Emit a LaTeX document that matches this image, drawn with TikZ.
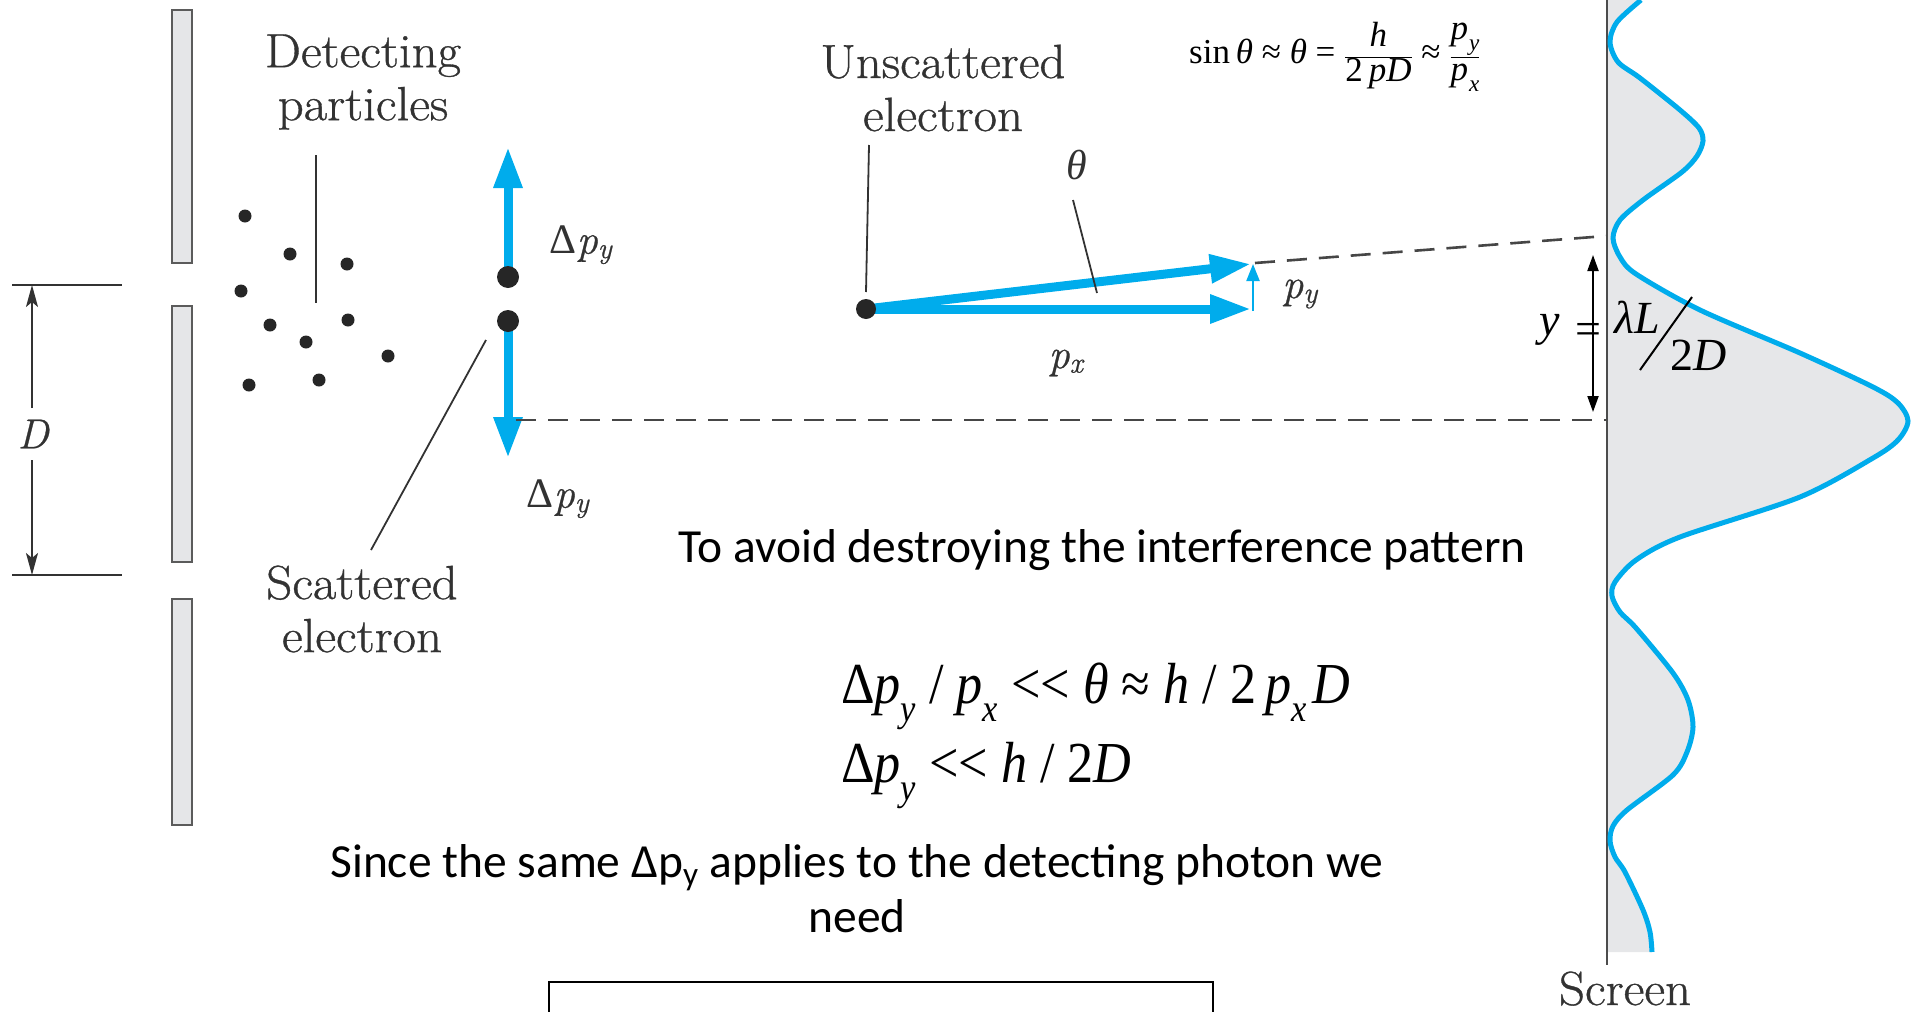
\documentclass[tikz,border=0pt]{standalone}
\usepackage{fontspec}
\newfontfamily\calibri{Carlito}
\newfontfamily\tnr{Liberation Serif}
\newfontfamily\bookfont{Latin Modern Roman}[FakeBold=0.7]
\usetikzlibrary{arrows.meta}
\definecolor{eblue}{RGB}{0,172,236}
\definecolor{labgray}{RGB}{50,50,50}
\definecolor{slitfill}{RGB}{229,230,232}
\definecolor{scrfill}{RGB}{230,231,233}
\definecolor{dashc}{RGB}{70,70,70}
\newcommand\bk[1]{\scalebox{1.06}[1]{#1}}
\newcommand\bookpy{{\tnr Δ}\textit{p}\textsubscript{\itshape y}}
\newcommand\wsub[1]{\raisebox{-0.32em}{\scalebox{0.66}{#1}}}
\tikzset{
  lab/.style={text=labgray, align=center, inner sep=0pt, font=\bookfont\fontsize{48}{53}\selectfont},
  mlab/.style={text=labgray, inner sep=0pt, font=\bookfont\fontsize{42}{46}\selectfont},
  body/.style={text=black, align=center, inner sep=0pt, font=\calibri\fontsize{47.5}{55}\selectfont},
  eqn/.style={text=black, inner sep=0pt, font=\tnr\fontsize{58}{62}\selectfont},
  ptr/.style={draw=labgray, line width=1.8pt},
  slit/.style={draw=labgray!80, fill=slitfill, line width=1.6pt},
  dimarrow/.style={draw=labgray, line width=1.8pt, -{Stealth[length=22pt,width=12pt,inset=5pt]}},
  barrow/.style={draw=eblue, line width=9pt, -{Triangle[length=41pt,width=27pt]}},
  sarrow/.style={draw=eblue, line width=2.2pt, -{Triangle[length=17pt,width=13pt]}},
  dashline/.style={draw=dashc, line width=2.6pt, dash pattern=on 20pt off 12pt},
  dotp/.style={circle, fill=black!85, inner sep=0pt, minimum size=13pt},
  edot/.style={circle, fill=black!85, inner sep=0pt, minimum size=22pt},
}
\begin{document}
\begin{tikzpicture}[x=1pt,y=-1pt]
\useasboundingbox (0,0) rectangle (1917,1012);

% ---- slits
\draw[slit] (172,10) rectangle (192,263);
\draw[slit] (172,306) rectangle (192,562);
\draw[slit] (172,599) rectangle (192,825);

% ---- D dimension
\coordinate (dTL) at (12,285); \coordinate (dTR) at (122,285);
\coordinate (dBL) at (12,575); \coordinate (dBR) at (122,575);
\draw[ptr] (dTL) -- (dTR);
\draw[ptr] (dBL) -- (dBR);
\node[mlab] (Dlab) at (33,434) {\itshape D};
\coordinate (dTop) at (32,285); \coordinate (dBot) at (32,575);
\coordinate (dTs) at (32,408); \coordinate (dBs) at (32,460);
\draw[dimarrow] (dTs) -- (dTop);
\draw[dimarrow] (dBs) -- (dBot);

% ---- detecting particles
\node[lab] (detlab) at (363,82) {\bk{Detecting}\\\bk{particles}};
\coordinate (detA) at (316,155); \coordinate (detB) at (316,303);
\draw[ptr] (detA) -- (detB);
\foreach \p [count=\i] in {(245,216),(290,254),(347,264),(241,291),(270,325),(306,342),(348,320),(388,356),(249,385),(319,380)}
  \node[dotp] (dot\i) at \p {};

% ---- scattered electron
\coordinate (s1) at (508,277);
\coordinate (s2) at (508,321);
\coordinate (upTip) at (508,147);
\coordinate (dnTip) at (508,458);
\draw[barrow] (s1) -- (upTip);
\draw[barrow] (s2) -- (dnTip);
\node[edot] (se1) at (s1) {};
\node[edot] (se2) at (s2) {};
\node[mlab] (dpy1) at (581,245) {\bookpy};
\node[mlab] (dpy2) at (558,499) {\bookpy};
\node[lab] (sclab) at (362,609) {\bk{Scattered}\\\bk{electron}};
\coordinate (scA) at (486,340); \coordinate (scB) at (371,550);
\draw[ptr] (scA) -- (scB);

% ---- central dashed line
\coordinate (cdA) at (516,420); \coordinate (cdB) at (1890,420);
\draw[dashline] (cdA) -- (cdB);

% ---- unscattered electron
\node[lab] (unlab) at (943,88) {\bk{Unscattered}\\\bk{electron}};
\coordinate (u0) at (866,309);
\coordinate (uH) at (1251,309);
\coordinate (uA) at (1251,264);
\coordinate (pyA) at (1253,311);
\coordinate (pyB) at (1253,264);
\coordinate (unA) at (869,145); \coordinate (unB) at (866,292);
\draw[ptr] (unA) -- (unB);
\draw[barrow] (u0) -- (uA);
\draw[barrow] (u0) -- (uH);
\draw[sarrow] (pyA) -- (pyB);
\node[edot, minimum size=20pt] (ue) at (u0) {};
\node[mlab] (thlab) at (1077,165) {\tnr\itshape θ};
\coordinate (thA) at (1073,200); \coordinate (thB) at (1097,293);
\draw[ptr] (thA) -- (thB);
\node[mlab] (pylab) at (1300,294) {\textit{p}\textsubscript{\itshape y}};
\node[mlab] (pxlab) at (1066,363) {\textit{p}\textsubscript{\itshape x}};
\coordinate (tdA) at (1255,263); \coordinate (tdB) at (1606,236);
\draw[dashline] (tdA) -- (tdB);

% ---- top formula
\node[text=black, inner sep=0pt, anchor=west, font=\tnr\fontsize{35}{40}\selectfont] (topf) at (1189,57)
  {sin\,\textit{θ} ≈ \textit{θ} = $\displaystyle\frac{\hbox{\itshape h}}{\hbox{2\,\itshape pD}}$ ≈ $\displaystyle\frac{\hbox{\itshape p\kern1pt\wsub{y}}}{\hbox{\itshape p\kern1pt\wsub{x}}}$};

% ---- screen and pattern
\fill[scrfill] (1607,0) -- plot[smooth] coordinates {(1641,0) (1617,22) (1610,42) (1618,62) (1640,78) (1680,110) (1699,128) (1703,141) (1697,156) (1682,172) (1643,200) (1620,220) (1613,238) (1620,257) (1636,274) (1700,310) (1800,353) (1873,387) (1898,403) (1908,421) (1898,440) (1873,458) (1800,497) (1680,537) (1636,560) (1615,582) (1612,596) (1620,612) (1636,628) (1673,673) (1688,700) (1693,727) (1687,752) (1673,775) (1627,810) (1613,826) (1610,841) (1615,857) (1625,872) (1643,910) (1650,932) (1652,952)} -- (1607,952) -- cycle;
\coordinate (scrTop) at (1607,0); \coordinate (scrBot) at (1607,965);
\draw[draw=black!70, line width=2.6pt] (scrTop) -- (scrBot);
\draw[eblue, line width=5pt] plot[smooth] coordinates {(1641,0) (1617,22) (1610,42) (1618,62) (1640,78) (1680,110) (1699,128) (1703,141) (1697,156) (1682,172) (1643,200) (1620,220) (1613,238) (1620,257) (1636,274) (1700,310) (1800,353) (1873,387) (1898,403) (1908,421) (1898,440) (1873,458) (1800,497) (1680,537) (1636,560) (1615,582) (1612,596) (1620,612) (1636,628) (1673,673) (1688,700) (1693,727) (1687,752) (1673,775) (1627,810) (1613,826) (1610,841) (1615,857) (1625,872) (1643,910) (1650,932) (1652,952)};
\node[lab, anchor=base] (scrlab) at (1625,1005) {\bk{Screen}};

% ---- y = lambda L / 2D
\coordinate (yA) at (1593,255); \coordinate (yB) at (1593,412);
\draw[black, line width=2pt, {Triangle[length=16pt,width=11pt]}-{Triangle[length=16pt,width=11pt]}] (yA) -- (yB);
\node[inner sep=0pt, font=\tnr\itshape\fontsize{46}{50}\selectfont] (ylab) at (1550,330) {y};
\node[inner sep=0pt, font=\tnr\fontsize{46}{50}\selectfont] (eqlab) at (1588,334) {=};
\node[inner sep=0pt, font=\tnr\itshape\fontsize{46}{50}\selectfont] (lLlab) at (1637,317) {λL};
\coordinate (slA) at (1640,370); \coordinate (slB) at (1692,297);
\draw[black, line width=2pt] (slA) -- (slB);
\node[inner sep=0pt, font=\tnr\itshape\fontsize{46}{50}\selectfont] (twoD) at (1699,355) {\upshape 2\itshape D};

% ---- body text
\node[body] (t1) at (1102,550) {To avoid destroying the interference pattern};
\node[eqn, anchor=base west] (eq1) at (841,703)
  {\scalebox{0.9}[1]{Δ\textit{p\wsub{y}} / \textit{p\wsub{x}} <\kern0pt< \textit{θ} ≈ \textit{h} / 2\,\textit{p\wsub{x}\kern7pt D}}};
\node[eqn, anchor=base west] (eq2) at (841,782)
  {\scalebox{0.9}[1]{Δ\textit{p\wsub{y}} <\kern0pt< \textit{h} / 2\textit{D}}};
\node[body] (t2) at (857,889) {Since the same Δp\textsubscript{y} applies to the detecting photon we\\need};

% ---- box
\coordinate (bxA) at (549,1012); \coordinate (bxB) at (549,982);
\coordinate (bxC) at (1213,982); \coordinate (bxD) at (1213,1012);
\draw[black, line width=2.4pt] (bxA) -- (bxB) -- (bxC) -- (bxD);
\end{tikzpicture}
\end{document}
